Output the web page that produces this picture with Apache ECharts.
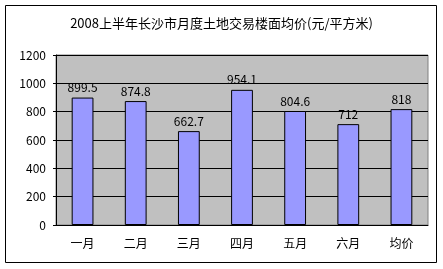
<!DOCTYPE html>
<html><head><meta charset="utf-8">
<script src="https://cdn.jsdelivr.net/npm/echarts@6/dist/echarts.min.js"></script>
<style>html,body{margin:0;padding:0;background:#fff}#c{width:443px;height:269px}</style>
</head><body><div id="c"></div>
<script>
var categories = ['一月','二月','三月','四月','五月','六月','均价'];
var values = [899.5, 874.8, 662.7, 954.1, 804.6, 712, 818];
var yTicks = [0, 200, 400, 600, 800, 1000, 1200];
var titleText = '2008上半年长沙市月度土地交易楼面均价(元/平方米)';
var font = '"Noto Sans CJK SC", "DejaVu Sans", sans-serif';
var chart = echarts.init(document.getElementById('c'));
chart.setOption({
  animation: false,
  title: {text: titleText, left: 'center', top: 12,
    textStyle: {fontSize: 13, fontWeight: 'normal', color: '#000', fontFamily: font}},
  graphic: [{type: 'rect', shape: {x: 5.5, y: 5.5, width: 431, height: 257},
    style: {fill: 'none', stroke: '#000', lineWidth: 1}, z: -1}],
  grid: {left: 56, right: 15, top: 55, bottom: 44, show: true, backgroundColor: '#C0C0C0', borderColor: '#808080', borderWidth: 1},
  xAxis: {type: 'category', data: categories,
    axisLine: {lineStyle: {color: '#000'}},
    axisTick: {inside: true, length: 4, lineStyle: {color: '#000'}},
    axisLabel: {color: '#000', fontSize: 12, margin: 12, fontFamily: font}},
  yAxis: {type: 'value', min: yTicks[0], max: yTicks[yTicks.length-1], interval: 200,
    axisLine: {show: true, lineStyle: {color: '#000'}},
    axisTick: {show: true, length: 3, lineStyle: {color: '#000'}},
    splitLine: {lineStyle: {color: '#000'}},
    axisLabel: {color: '#000', fontSize: 12, margin: 10, fontFamily: font,
      formatter: function (v) { return String(v); }}},
  series: [{type: 'bar', data: values, barWidth: '41%',
    itemStyle: {color: '#9999FF', borderColor: '#000', borderWidth: 1},
    label: {show: true, position: 'top', color: '#000', fontSize: 12, fontFamily: font, distance: 4}}]
});
</script></body></html>
